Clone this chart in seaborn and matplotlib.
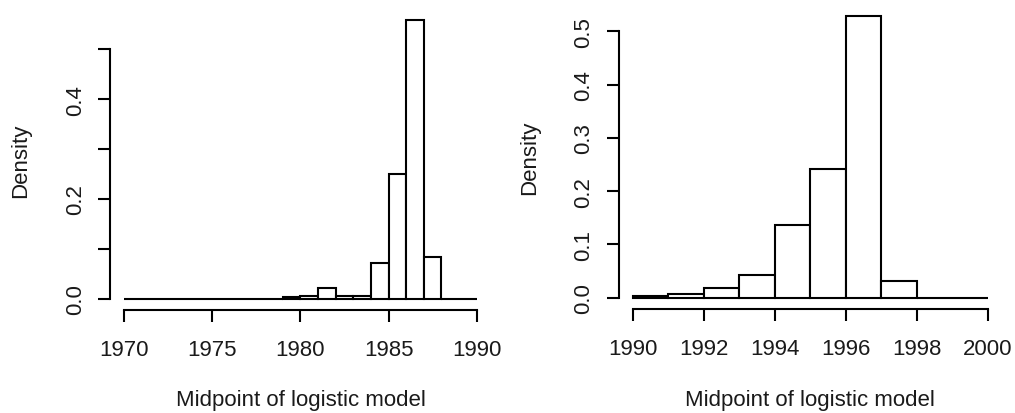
import numpy as np
import pandas as pd
import matplotlib
matplotlib.use("Agg")
import matplotlib.pyplot as plt
import seaborn as sns

# ---- data ----
left_bin_start = list(range(1970, 1990))
left_density = [0, 0, 0, 0, 0, 0, 0, 0, 0,
                0.0033, 0.0066, 0.022, 0.0066, 0.0066, 0.072, 0.249, 0.558, 0.083,
                0, 0]
left_edges = list(range(1970, 1991))
left_xticks = [1970, 1975, 1980, 1985, 1990]
left_yticks = [0.0, 0.1, 0.2, 0.3, 0.4, 0.5]
left_ylabels = ["0.0", "", "0.2", "", "0.4", ""]

right_bin_start = list(range(1990, 2000))
right_density = [0.003, 0.0075, 0.0176, 0.042, 0.137, 0.242, 0.529, 0.031, 0, 0]
right_edges = list(range(1990, 2001))
right_xticks = [1990, 1992, 1994, 1996, 1998, 2000]
right_yticks = [0.0, 0.1, 0.2, 0.3, 0.4, 0.5]
right_ylabels = ["0.0", "0.1", "0.2", "0.3", "0.4", "0.5"]

xlabel = "Midpoint of logistic model"
ylabel = "Density"

sns.set_style("white")
plt.rcParams["font.family"] = ["Liberation Sans", "DejaVu Sans"]

fig = plt.figure(figsize=(10.15, 4.14), dpi=100)
FS = 16
LW = 1.5
TEXT = "#1a1a1a"


def panel(rect, starts, dens, edges, xticks, yticks, ylabels, xlab_y, ylab_x):
    ax = fig.add_axes(rect)
    df = pd.DataFrame({"x": starts, "w": dens})
    sns.histplot(data=df, x="x", weights="w", bins=edges, stat="count",
                 color="white", edgecolor="black", linewidth=LW, alpha=1,
                 ax=ax)
    x0, x1 = edges[0], edges[-1]
    pad = (x1 - x0) * 0.04
    ax.set_xlim(x0 - pad, x1 + pad)
    ymax = max(dens)
    ax.set_ylim(-ymax * 0.04, ymax * 1.04)
    for s in ["top", "right"]:
        ax.spines[s].set_visible(False)
    ax.spines["bottom"].set_bounds(xticks[0], xticks[-1])
    ax.spines["left"].set_bounds(yticks[0], yticks[-1])
    for s in ["bottom", "left"]:
        ax.spines[s].set_linewidth(LW)
        ax.spines[s].set_color("black")
    ax.set_xticks(xticks)
    ax.set_xticklabels([str(t) for t in xticks])
    ax.set_yticks(yticks)
    ax.set_yticklabels(ylabels, rotation=90, va="center")
    ax.tick_params(axis="both", direction="out", length=8.5, width=LW,
                   color="black", labelsize=FS, labelcolor=TEXT,
                   bottom=True, left=True)
    ax.tick_params(axis="x", pad=12.5)
    ax.tick_params(axis="y", pad=9)
    ax.set_xlabel(xlabel, fontsize=FS, color=TEXT)
    ax.set_ylabel(ylabel, fontsize=FS, color=TEXT)
    ax.xaxis.set_label_coords(0.5, xlab_y)
    ax.xaxis.label.set_va("center")
    ax.yaxis.set_label_coords(ylab_x, 0.5)
    ax.yaxis.label.set_va("center")
    ax.set_facecolor("white")
    return ax


panel([0.1084, 0.2488, 0.3752, 0.7270], left_bin_start, left_density,
      left_edges, left_xticks, left_yticks, left_ylabels, -0.296, -0.236)
panel([0.6094, 0.2512, 0.3777, 0.7353], right_bin_start, right_density,
      right_edges, right_xticks, right_yticks, right_ylabels, -0.296, -0.231)

fig.savefig("out.png", dpi=100, facecolor="white")
